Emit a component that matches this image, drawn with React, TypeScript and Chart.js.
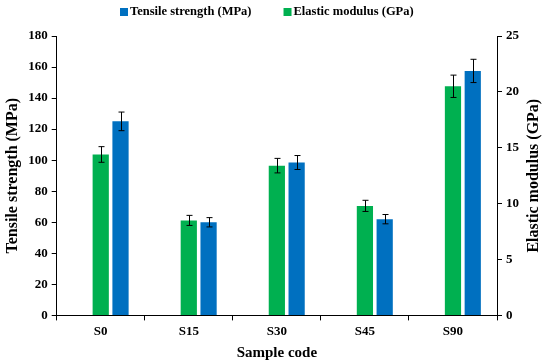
import React, { useEffect, useRef } from "react";
import { Chart, registerables } from "chart.js";

Chart.register(...registerables);

const categories = ["S0", "S15", "S30", "S45", "S90"];
const tensile = [125, 60, 98.5, 62, 157.5];
const tensileErr = [6, 3, 4.5, 3, 7.5];
const modulus = [14.4, 8.5, 13.4, 9.8, 20.5];
const modulusErr = [0.7, 0.45, 0.65, 0.5, 1.0];
const placeholder = [null, null, null, null, null];

const tensileLabel = "Tensile strength (MPa)";
const modulusLabel = "Elastic modulus (GPa)";
const rightTitle = "Elastic modulus (GPa)";

const FONT = "'Liberation Serif', 'Times New Roman', serif";
const BLUE = "#0070C0";
const GREEN = "#00B050";

const errorBarPlugin = {
  id: "errorBars",
  afterDatasetsDraw(chart: any) {
    const ctx = chart.ctx;
    chart.data.datasets.forEach((ds: any, i: number) => {
      if (!ds.errors) return;
      const meta = chart.getDatasetMeta(i);
      const scale = chart.scales[ds.yAxisID];
      ctx.save();
      ctx.strokeStyle = "#000";
      ctx.lineWidth = 1;
      meta.data.forEach((el: any, j: number) => {
        const v = ds.data[j];
        const e = ds.errors[j];
        if (v == null) return;
        const x = Math.round(el.x) + 0.5;
        const yTop = scale.getPixelForValue(v + e);
        const yBot = scale.getPixelForValue(v - e);
        ctx.beginPath();
        ctx.moveTo(x, yTop);
        ctx.lineTo(x, yBot);
        ctx.moveTo(x - 3, yTop);
        ctx.lineTo(x + 3, yTop);
        ctx.moveTo(x - 3, yBot);
        ctx.lineTo(x + 3, yBot);
        ctx.stroke();
      });
      ctx.restore();
    });
  },
};

const legendAndTitlePlugin = {
  id: "customLegend",
  afterDraw(chart: any) {
    const ctx = chart.ctx;
    ctx.save();
    ctx.font = `bold 12.5px ${FONT}`;
    ctx.textBaseline = "middle";
    ctx.textAlign = "left";
    ctx.fillStyle = "#000";
    const items = [
      { text: tensileLabel, color: BLUE },
      { text: modulusLabel, color: GREEN },
    ];
    let x = 120;
    const y = 12;
    for (const it of items) {
      ctx.fillStyle = it.color;
      ctx.fillRect(x, y - 4, 8, 8);
      ctx.fillStyle = "#000";
      ctx.fillText(it.text, x + 10, y);
      x += 10 + ctx.measureText(it.text).width + 32;
    }
    // right axis title, reading bottom-to-top
    const area = chart.chartArea;
    ctx.font = `bold 16px ${FONT}`;
    ctx.textAlign = "center";
    ctx.textBaseline = "middle";
    ctx.translate(534, (area.top + area.bottom) / 2);
    ctx.rotate(-Math.PI / 2);
    ctx.fillText(rightTitle, 0, 0);
    ctx.restore();
  },
};

export default function App() {
  const ref = useRef<HTMLCanvasElement>(null);
  useEffect(() => {
    if (!ref.current) return;
    const chart = new Chart(ref.current, {
      type: "bar",
      data: {
        labels: categories,
        datasets: [
          { label: "", data: placeholder as any, yAxisID: "y", backgroundColor: "transparent" },
          {
            label: modulusLabel,
            data: modulus,
            yAxisID: "y1",
            backgroundColor: GREEN,
            errors: modulusErr,
          } as any,
          {
            label: tensileLabel,
            data: tensile,
            yAxisID: "y",
            backgroundColor: BLUE,
            errors: tensileErr,
          } as any,
        ],
      },
      options: {
        animation: false,
        responsive: true,
        maintainAspectRatio: false,
        categoryPercentage: 0.674,
        barPercentage: 0.82,
        layout: { padding: { top: 36, left: 3, right: 27, bottom: 2 } },
        plugins: {
          tooltip: { enabled: false },
          legend: { display: false },
        },
        scales: {
          x: {
            grid: {
              display: true,
              drawOnChartArea: false,
              offset: true,
              tickLength: 5,
              color: "#000",
            },
            border: { color: "#000", width: 1 },
            ticks: { color: "#000", font: { family: FONT, size: 13, weight: "bold" } },
            title: {
              display: true,
              text: "Sample code",
              color: "#000",
              font: { family: FONT, size: 15, weight: "bold" },
              padding: { top: 2, bottom: 0 },
            },
          },
          y: {
            position: "left",
            min: 0,
            max: 180,
            ticks: {
              stepSize: 20,
              color: "#000",
              padding: 4,
              font: { family: FONT, size: 13, weight: "bold" },
            },
            grid: { display: true, drawOnChartArea: false, tickLength: 5, color: "#000" },
            border: { color: "#000", width: 1 },
            title: {
              display: true,
              text: "Tensile strength (MPa)",
              color: "#000",
              font: { family: FONT, size: 16, weight: "bold" },
              padding: { top: 0, bottom: 2 },
            },
          },
          y1: {
            position: "right",
            min: 0,
            max: 25,
            ticks: {
              stepSize: 5,
              color: "#000",
              padding: 4,
              font: { family: FONT, size: 13, weight: "bold" },
            },
            grid: { display: true, drawOnChartArea: false, tickLength: 5, color: "#000" },
            border: { color: "#000", width: 1 },
            title: { display: false },
          },
        },
      } as any,
      plugins: [errorBarPlugin, legendAndTitlePlugin],
    });
    return () => chart.destroy();
  }, []);

  return (
    <div style={{ position: "fixed", left: 0, top: 0, width: 550, height: 364, background: "#fff" }}>
      <canvas ref={ref} />
    </div>
  );
}
